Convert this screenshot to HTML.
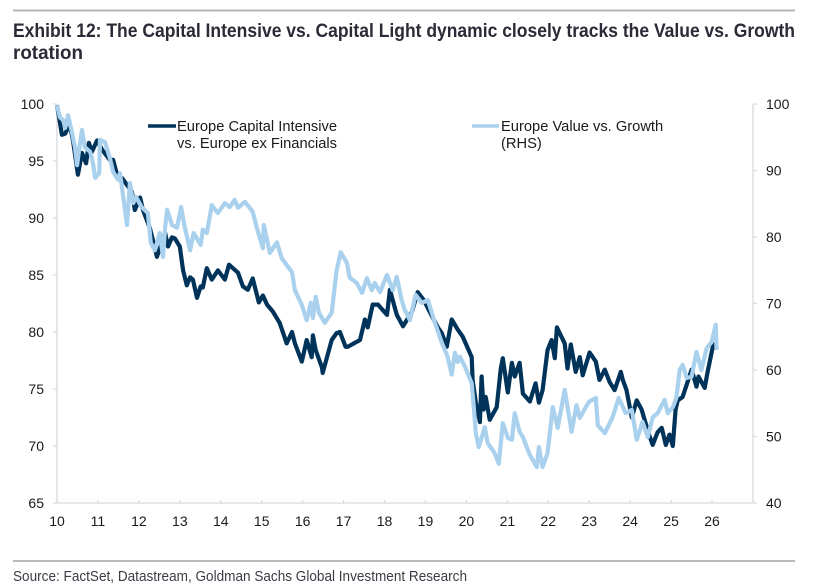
<!DOCTYPE html>
<html>
<head>
<meta charset="utf-8">
<title>Exhibit 12</title>
<style>
html,body{margin:0;padding:0;background:#fff;}
body{width:813px;height:585px;overflow:hidden;}
svg{display:block;}
text{font-family:"Liberation Sans",Arial,sans-serif;}
</style>
</head>
<body>
<svg id="chart" width="813" height="585" viewBox="0 0 813 585">
  <rect x="13" y="9.5" width="782" height="2" fill="#b4b4b4"/>
  <text x="13" y="37" font-size="19" font-weight="bold" fill="#2b2b38" textLength="782" lengthAdjust="spacingAndGlyphs">Exhibit 12: The Capital Intensive vs. Capital Light dynamic closely tracks the Value vs. Growth</text>
  <text x="13" y="59" font-size="19" font-weight="bold" fill="#2b2b38" textLength="70" lengthAdjust="spacingAndGlyphs">rotation</text>
  <g id="axes"></g>
  <g id="series"></g>
  <g>
    <line x1="148" y1="126" x2="176" y2="126" stroke="#003359" stroke-width="3.4"/>
    <text x="177" y="131" font-size="14.7" fill="#1a1a1a">Europe Capital Intensive</text>
    <text x="177" y="148" font-size="14.7" fill="#1a1a1a">vs. Europe ex Financials</text>
    <line x1="472" y1="126" x2="499" y2="126" stroke="#a9d1ee" stroke-width="3.4"/>
    <text x="501" y="131" font-size="14.7" fill="#1a1a1a">Europe Value vs. Growth</text>
    <text x="501" y="148" font-size="14.7" fill="#1a1a1a">(RHS)</text>
  </g>
  <rect x="13" y="560.5" width="782" height="1" fill="#777"/>
  <text x="13" y="581" font-size="14.5" fill="#3c3c46" textLength="454" lengthAdjust="spacingAndGlyphs">Source: FactSet, Datastream, Goldman Sachs Global Investment Research</text>
</svg>
<script>
const yearTicks = [10,11,12,13,14,15,16,17,18,19,20,21,22,23,24,25,26];
const leftTicks = [65,70,75,80,85,90,95,100];
const rightTicks = [40,50,60,70,80,90,100];

const capitalDates = [10.00,10.07,10.12,10.20,10.24,10.32,10.39,10.46,10.51,10.61,10.71,10.78,10.85,10.98,11.10,11.29,11.37,11.49,11.59,11.83,11.90,12.03,12.10,12.27,12.34,12.44,12.56,12.64,12.71,12.81,12.88,13.00,13.08,13.17,13.25,13.32,13.42,13.51,13.56,13.66,13.78,13.93,14.10,14.20,14.42,14.54,14.66,14.78,14.93,15.03,15.13,15.27,15.44,15.61,15.74,15.81,15.98,16.10,16.22,16.25,16.32,16.47,16.49,16.71,16.83,16.91,17.05,17.10,17.40,17.52,17.59,17.71,17.84,18.06,18.13,18.30,18.45,18.67,18.81,18.96,19.10,19.30,19.40,19.52,19.64,19.79,19.91,20.13,20.15,20.23,20.33,20.37,20.42,20.47,20.57,20.74,20.84,20.89,21.01,21.11,21.18,21.30,21.38,21.55,21.69,21.77,21.86,21.98,22.08,22.16,22.21,22.40,22.47,22.55,22.67,22.77,22.84,23.01,23.16,23.25,23.38,23.50,23.62,23.77,23.82,23.91,24.04,24.16,24.28,24.40,24.48,24.55,24.67,24.77,24.87,24.96,25.04,25.11,25.16,25.28,25.40,25.50,25.62,25.67,25.82,25.89,26.04,26.13];
const capitalValues = [99.9,98.4,97.3,97.4,97.7,98.0,96.8,95.1,93.8,95.7,94.8,96.6,95.8,96.8,96.0,95.1,95.1,93.5,93.5,92.3,90.7,91.8,90.7,89.1,88.1,86.6,87.8,88.7,87.5,88.3,88.2,87.5,85.4,84.1,84.8,84.6,83.0,84.0,83.9,85.6,84.6,85.4,84.6,85.9,85.2,84.0,83.7,84.7,82.6,83.2,82.4,81.8,80.8,79.0,80.0,79.0,77.4,79.3,77.8,79.7,78.4,76.9,76.4,79.3,79.9,80.0,78.7,78.7,79.3,81.1,80.4,82.4,82.4,81.5,83.7,81.5,80.5,81.8,83.5,82.8,81.8,80.4,79.9,78.7,81.1,80.2,79.6,77.8,75.8,73.8,72.1,76.1,73.2,74.3,72.3,73.4,76.8,77.7,74.7,77.3,76.1,77.3,74.6,73.9,75.5,73.8,74.9,78.4,79.3,77.7,80.4,79.0,76.8,78.9,76.5,77.8,76.2,78.2,77.4,75.8,76.7,75.6,74.9,76.5,75.8,74.9,72.5,74.0,73.2,71.7,70.8,70.1,71.2,71.6,70.1,71.0,70.0,73.2,74.0,74.3,75.6,76.7,75.2,76.1,75.1,76.5,79.1];
const valueDates = [10.00,10.07,10.15,10.20,10.27,10.37,10.44,10.49,10.54,10.61,10.68,10.81,10.88,10.93,11.03,11.05,11.17,11.29,11.37,11.49,11.54,11.64,11.71,11.78,11.86,11.93,12.07,12.22,12.29,12.39,12.51,12.59,12.64,12.69,12.81,12.93,13.03,13.12,13.25,13.34,13.51,13.56,13.66,13.78,13.93,14.10,14.22,14.34,14.42,14.59,14.78,14.88,15.03,15.05,15.20,15.37,15.49,15.74,15.81,15.98,16.10,16.20,16.25,16.32,16.40,16.54,16.71,16.83,16.93,17.08,17.15,17.32,17.45,17.57,17.69,17.76,17.89,18.06,18.20,18.30,18.42,18.49,18.62,18.76,18.91,19.06,19.23,19.40,19.54,19.64,19.72,19.79,19.84,19.98,20.13,20.18,20.23,20.30,20.45,20.52,20.69,20.79,20.89,21.01,21.11,21.18,21.30,21.38,21.55,21.72,21.77,21.86,21.98,22.11,22.23,22.40,22.57,22.69,22.77,22.99,23.16,23.21,23.38,23.57,23.72,23.89,24.04,24.16,24.30,24.43,24.55,24.67,24.84,24.92,25.04,25.13,25.21,25.28,25.38,25.50,25.62,25.74,25.87,25.99,26.09,26.11];
const valueValues = [99.8,98.0,97.6,96.4,98.3,95.6,93.5,90.8,93.1,96.1,93.5,92.8,91.1,88.9,89.6,94.6,94.3,91.9,89.8,88.6,89.6,85.1,81.8,88.1,85.1,86.0,84.5,83.6,79.1,78.0,80.6,77.0,81.4,84.1,81.8,81.4,84.5,81.5,78.0,80.6,78.8,81.1,80.6,84.8,83.6,85.1,84.5,85.6,84.4,85.3,83.8,81.4,78.3,81.8,77.6,79.2,76.8,74.7,72.0,69.8,67.5,70.1,67.8,71.0,68.6,67.1,68.6,75.0,77.7,76.1,73.9,73.1,71.6,73.8,72.0,73.1,71.7,74.3,72.0,74.0,70.5,69.1,67.5,71.3,70.1,70.5,67.1,64.1,62.0,59.3,62.6,61.2,62.0,60.3,58.0,54.4,50.5,48.4,51.4,49.0,47.5,45.9,52.0,49.8,49.5,53.5,50.7,49.9,47.2,45.4,48.4,45.4,47.5,54.4,51.3,57.0,50.7,54.7,52.8,55.2,55.8,51.7,50.5,52.9,55.8,53.5,54.0,49.5,52.2,49.9,52.9,53.5,55.5,53.5,54.4,55.8,60.0,60.8,58.8,59.0,62.7,60.0,63.3,64.2,66.8,63.0];

const NS = 'http://www.w3.org/2000/svg';
const plotLeft = 57, plotRight = 753, plotTop = 104, plotBottom = 503;
function xScale(d){ return plotLeft + (d - 10) / (27 - 10) * (plotRight - plotLeft); }
function yLeft(v){ return plotBottom - (v - 65) / (100 - 65) * (plotBottom - plotTop); }
function yRight(v){ return plotBottom - (v - 40) / (100 - 40) * (plotBottom - plotTop); }
function make(tag, attrs){
  const el = document.createElementNS(NS, tag);
  for (const k in attrs) el.setAttribute(k, attrs[k]);
  return el;
}
const axes = document.getElementById('axes');
const seriesGroup = document.getElementById('series');
const axisColor = '#d9d9d9';

const leftAxis = make('line', {x1: plotLeft, y1: plotTop, x2: plotLeft, y2: plotBottom, stroke: axisColor, 'stroke-width': 1.3});


axes.appendChild(leftAxis);

const rightAxis = make('line', {x1: plotRight, y1: plotTop, x2: plotRight, y2: plotBottom, stroke: axisColor, 'stroke-width': 1.3});


axes.appendChild(rightAxis);

const bottomAxis = make('line', {x1: plotLeft, y1: plotBottom, x2: plotRight, y2: plotBottom, stroke: axisColor, 'stroke-width': 1.3});


axes.appendChild(bottomAxis);

leftTicks.forEach(function(v){
  const t = make('line', {x1: plotLeft - 4, y1: yLeft(v), x2: plotLeft, y2: yLeft(v), stroke: axisColor, 'stroke-width': 1.2});
  
  
  axes.appendChild(t);
  const l = make('text', {x: 44, y: yLeft(v) + 5, 'font-size': 14, 'text-anchor': 'end', fill: '#1a1a1a'});
  l.textContent = v;
  
  
  axes.appendChild(l);
});
rightTicks.forEach(function(v){
  const t = make('line', {x1: plotRight, y1: yRight(v), x2: plotRight + 4, y2: yRight(v), stroke: axisColor, 'stroke-width': 1.2});
  
  
  axes.appendChild(t);
  const l = make('text', {x: 766, y: yRight(v) + 5, 'font-size': 14, fill: '#1a1a1a'});
  l.textContent = v;
  
  
  axes.appendChild(l);
});
yearTicks.concat([27]).forEach(function(d){
  const t = make('line', {x1: xScale(d), y1: plotBottom - 3, x2: xScale(d), y2: plotBottom, stroke: axisColor, 'stroke-width': 1.2});
  
  
  axes.appendChild(t);
});
yearTicks.forEach(function(d){
  const l = make('text', {x: xScale(d), y: 526, 'font-size': 14, 'text-anchor': 'middle', fill: '#1a1a1a'});
  l.textContent = d;
  
  
  axes.appendChild(l);
});

function buildPoints(dates, values, yFn){
  return dates.map(function(d, i){ return xScale(d).toFixed(1) + ',' + yFn(values[i]).toFixed(1); }).join(' ');
}
const capitalLine = make('polyline', {points: buildPoints(capitalDates, capitalValues, yLeft), fill: 'none', stroke: '#003359', 'stroke-width': 4.2, 'stroke-linejoin': 'round'});


seriesGroup.appendChild(capitalLine);

const valueLine = make('polyline', {points: buildPoints(valueDates, valueValues, yRight), fill: 'none', stroke: '#a9d1ee', 'stroke-width': 4.2, 'stroke-linejoin': 'round'});


seriesGroup.appendChild(valueLine);
</script>
</body>
</html>
